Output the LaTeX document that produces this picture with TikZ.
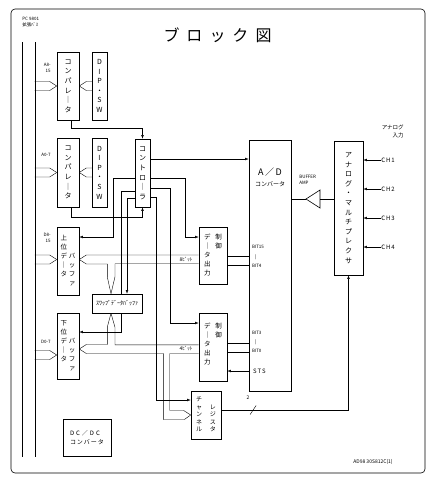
\documentclass[tikz,border=0pt]{standalone}
\usepackage{fontspec}
\setmainfont{Noto Sans CJK JP}
\usepackage{tikz}
\usetikzlibrary{arrows.meta,calc,backgrounds}
\newcommand{\boxfont}{\fontsize{7}{9.6}\selectfont}
\newcommand{\smallfont}{\fontsize{6.5}{9}\selectfont}
\newcommand{\tinyfont}{\fontsize{4.5}{6}\selectfont}
% open bus tip: tip point, run to the chevron, rest of the run
\newcommand{\widetip}[3]{%
  \draw (#1) -- ++(#2,-4.5) -- ++(#3,0);
  \draw (#1) -- ++(#2,4.5) -- ++(#3,0);}

\begin{document}
\begin{tikzpicture}[x=1pt,y=-1pt,
    box/.style={draw,fill=white,inner sep=0pt,align=center,font=\boxfont},
    lbl/.style={inner sep=0pt,font=\tinyfont},
    line width=0.6pt,
    >={Latex[length=3.5pt,width=2.6pt]}
  ]
  \useasboundingbox (0,0) rectangle (439,488);
  \draw[rounded corners=4pt] (11,9) rectangle (425,473);

  \node[font=\fontsize{16}{18}\selectfont] (title) at (217.5,35) {ブ\hspace{7pt}ロ\hspace{7pt}ッ\hspace{7pt}ク\hspace{7pt}図};
  \node[lbl,align=left,anchor=north west] (pc) at (22,17) {PC 9801\\拡張ﾊﾞｽ};

  % system bus
  \draw (22,42) -- (22,457);
  \draw (35,42) -- (35,457);

  \node[box,minimum width=22,minimum height=68] (comp1) at (68,86) {コ\\ン\\パ\\レ\\｜\\タ};
  \node[box,minimum width=15,minimum height=68] (dip1) at (99.5,86) {D\\I\\P\\・\\S\\W};
  \node[box,minimum width=22,minimum height=69] (comp2) at (68,172.5) {コ\\ン\\パ\\レ\\｜\\タ};
  \node[box,minimum width=15,minimum height=69] (dip2) at (99.5,172.5) {D\\I\\P\\・\\S\\W};
  \node[box,minimum width=15,minimum height=68] (ctrl) at (142.5,173) {コ\\ン\\ト\\ロ\\｜\\ラ};
  \node[box,minimum width=22,minimum height=68,font=\smallfont] (ubuf) at (68,261)
    {\begin{tabular}{@{}c@{\hspace{2pt}}c@{}}上&\\位&\\デ&バ\\｜&ッ\\タ&フ\\&ァ\end{tabular}};
  \node[box,minimum width=22,minimum height=66,font=\smallfont] (lbuf) at (68,346)
    {\begin{tabular}{@{}c@{\hspace{2pt}}c@{}}下&\\位&\\デ&バ\\｜&ッ\\タ&フ\\&ァ\end{tabular}};
  \node[box,minimum width=50,minimum height=19,font=\fontsize{6}{7}\selectfont] (swap) at (117,303.5) {ｽﾜｯﾌﾟﾃﾞｰﾀﾊﾞｯﾌｧ};
  \node[box,minimum width=28,minimum height=57,font=\smallfont] (outA) at (213,255.5)
    {\begin{tabular}{@{}c@{\hspace{5pt}}c@{}}デ&制\\｜&御\\タ&\\出&\\力&\end{tabular}};
  \node[box,minimum width=28,minimum height=68,font=\smallfont] (outB) at (213,347)
    {\begin{tabular}{@{}c@{\hspace{5pt}}c@{}}デ&制\\｜&御\\タ&\\出&\\力&\\[4pt]\end{tabular}};
  \node[box,minimum width=42,minimum height=251] (ad) at (270,265.5) {};
  \node[font=\fontsize{9}{10}\selectfont,inner sep=0pt] (adt) at (270,172) {A\,／\,D};
  \node[font=\fontsize{6}{7}\selectfont,inner sep=0pt] (adc) at (270,184) {コンバータ};
  \node[box,minimum width=29,minimum height=134] (mux) at (348.5,208)
    {ア\\ナ\\ロ\\グ\\・\\マ\\ル\\チ\\プ\\レ\\ク\\サ};
  \node[box,minimum width=30,minimum height=48,font=\fontsize{6}{7.5}\selectfont] (reg) at (206,415)
    {\begin{tabular}{@{}c@{\hspace{8pt}}c@{}}チ&\\ャ&レ\\ン&ジ\\ネ&ス\\ル&タ\end{tabular}};
  \node[box,minimum width=48,minimum height=37,align=left,font=\fontsize{6}{9}\selectfont] (dcdc) at (87,437.5)
    {D\hspace{2pt}C\hspace{2pt}／\hspace{2pt}D\hspace{2pt}C\\コ\hspace{1pt}ン\hspace{1pt}バ\hspace{1pt}ー\hspace{1pt}タ};

  % buffer amp
  \coordinate (amptip) at (306,199);
  \coordinate (ampin) at (320,199);
  \draw (amptip) -- (320,190) -- (320,208) -- cycle;
  \node[lbl,align=left,anchor=north west] (ampl) at (299,175) {BUFFER\\AMP};

  % labels
  \node[lbl,align=right,anchor=north east] (a815) at (51,63) {A8-\\15};
  \node[lbl,anchor=east] (a07) at (51,155) {A0-7};
  \node[lbl,align=right,anchor=north east] (d815) at (51,233) {D8-\\15};
  \node[lbl,anchor=east] (d07) at (51,342) {D0-7};
  \node[lbl,align=right,anchor=north east,font=\fontsize{5.5}{8}\selectfont] (ain) at (404,125) {アナログ\\入力};
  \node[lbl,anchor=west,font=\fontsize{6}{7}\selectfont] (ch1) at (381,160) {C\,H\,1};
  \node[lbl,anchor=west,font=\fontsize{6}{7}\selectfont] (ch2) at (381,189) {C\,H\,2};
  \node[lbl,anchor=west,font=\fontsize{6}{7}\selectfont] (ch3) at (381,218) {C\,H\,3};
  \node[lbl,anchor=west,font=\fontsize{6}{7}\selectfont] (ch4) at (381,247) {C\,H\,4};
  \node[lbl,align=left,anchor=west,font=\fontsize{4.5}{9.5}\selectfont] (bitsA) at ($(ad.west)+(3,-9)$) {BIT15\\\hspace{3pt}|\\BIT4};
  \node[lbl,align=left,anchor=west,font=\fontsize{4.5}{9}\selectfont] (bitsB) at ($(ad.west)+(3,76.5)$) {BIT3\\\hspace{3pt}|\\BIT0};
  \node[lbl,anchor=west,font=\fontsize{6}{7}\selectfont] (sts) at ($(ad.west)+(4,105.5)$) {S\,T\,S};
  \node[lbl,font=\fontsize{5}{6}\selectfont] (bits8) at (186,259.5) {8ﾋﾞｯﾄ};
  \node[lbl,font=\fontsize{5}{6}\selectfont] (bits4) at (186,349) {4ﾋﾞｯﾄ};
  \node[lbl,font=\fontsize{5}{6}\selectfont] (code) at (373,462) {AD98 30S812C(1)};

  \begin{pgfonlayer}{background}
    % bus taps
    \widetip{comp1.west}{-7}{-15}
    \widetip{comp1.east}{7}{6}
    \widetip{comp2.west}{-7}{-15}
    \widetip{comp2.east}{7}{6}
    \widetip{$(ubuf.west)+(0,-1.5)$}{-7}{-15}
    \widetip{$(lbuf.west)+(0,9)$}{-7}{-15}

    % upper data bus
    \coordinate (ubt) at ($(ubuf.east)+(0,-1.5)$);
    \draw (ubt) -- ++(7,-4.5) coordinate (ub1) -- (ub1 -| outA.west);
    \draw (ubt) -- ++(7,4.5) -- ++(21,0) -- ++(0,13) -- ($(swap.north)+(-6,0)$)
      -- ++(4,-17) -- ++(0,-13) coordinate (ub2) -- (ub2 -| outA.west);

    % lower data bus
    \coordinate (lbt) at ($(lbuf.east)+(0,3)$);
    \draw (lbt) -- ++(7,-4.5) -- ++(21,0) -- ++(0,-17.5) -- ($(swap.south)+(-6,0)$)
      -- ++(4,14) -- ++(0,17.5) coordinate (lb1) -- (lb1 -| outB.west);
    \draw (lbt) -- ++(7,4.5) -- ++(77,0) -- ++(0,66) -- ++(21,0) -- (reg.west)
      -- ++(-7,-4.5) -- ++(-14,0) -- ++(0,-57) coordinate (lb2) -- (lb2 -| outB.west);

    % controller
    \draw[->] ($(comp1.south)+(3,0)$) -- ++(0,8) -| (ctrl.north);
    \draw[->] ($(comp2.south)+(3,0)$) -- ++(0,10) -| (ctrl.south);
    \draw[->] ($(ctrl.west)+(0,5)$) -- ++(-22,0) |- ($(ubuf.east)+(0,-24)$);
    \draw[->] ($(ctrl.west)+(0,18)$) -- ++(-14,0) |- ($(lbuf.east)+(0,-14)$);
    \draw[->] ($(ctrl.west)+(0,25)$) -| ($(swap.north)+(10,0)$);
    \draw[->] ($(ctrl.east)+(0,5)$) -- ++(35,0) |- ($(outA.west)+(0,-18.5)$);
    \draw[->] ($(ctrl.east)+(0,15)$) -- ++(20,0) |- ($(outB.west)+(0,-24)$);
    \draw[->] ($(ctrl.east)+(0,24)$) -- ++(6,0) |- ($(reg.west)+(0,-15)$);
    \draw[->] ($(ctrl.east)+(0,-14)$) coordinate (c2ad) -- (c2ad -| ad.west);

    % A/D outputs
    \draw ($(outA.east)+(0,0.5)$) coordinate (oa1) -- (oa1 -| ad.west);
    \draw ($(outA.east)+(0,9.5)$) coordinate (oa2) -- (oa2 -| ad.west);
    \draw ($(outB.east)+(0,-4)$) coordinate (ob1) -- (ob1 -| ad.west);
    \draw ($(outB.east)+(0,5)$) coordinate (ob2) -- (ob2 -| ad.west);
    \draw[<-] ($(outB.east)+(0,24)$) coordinate (ob3) -- (ob3 -| ad.west);

    % analog side
    \draw (ad.east |- amptip) -- (amptip);
    \draw (ampin) -- (mux.west |- ampin);
    \draw[->] (ch1.west) -- (ch1.west -| mux.east);
    \draw[->] (ch2.west) -- (ch2.west -| mux.east);
    \draw[->] (ch3.west) -- (ch3.west -| mux.east);
    \draw[->] (ch4.west) -- (ch4.west -| mux.east);
    \draw[->] ($(reg.east)+(0,-5)$) -| coordinate[pos=0.125] (sl) (mux.south);
    \draw (sl) ++(-3,4.5) -- ++(6,-9);
    \node[lbl,font=\fontsize{5}{6}\selectfont] (two) at ($(sl)+(-5,-12)$) {2};
  \end{pgfonlayer}
\end{tikzpicture}
\end{document}
